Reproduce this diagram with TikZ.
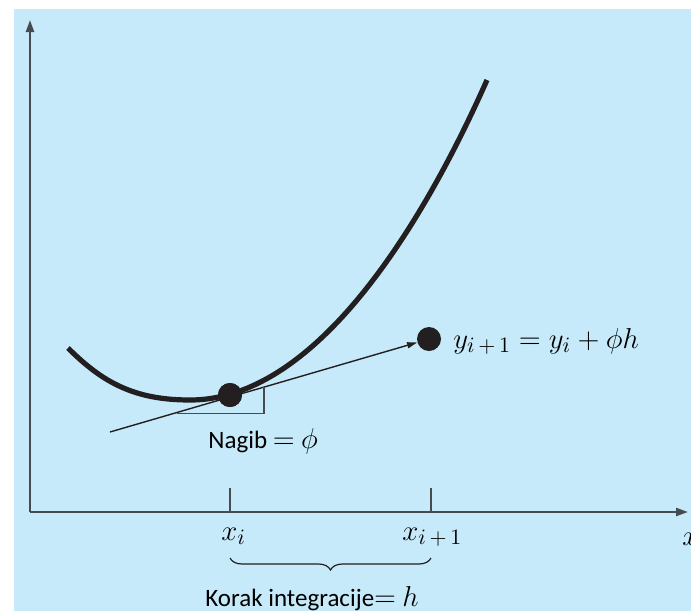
\documentclass[tikz,border=0pt]{standalone}
\usepackage{fontspec}
\setmainfont{Carlito}
\usetikzlibrary{arrows.meta,decorations.pathreplacing}
\definecolor{bgblue}{RGB}{198,234,249}
\definecolor{axisgrey}{RGB}{70,75,80}
\definecolor{ink}{RGB}{35,31,32}
\begin{document}
\begin{tikzpicture}[x=0.5pt,y=-0.5pt,
  axisline/.style={draw=axisgrey,line width=1.1pt},
  tickline/.style={draw=axisgrey,line width=0.7pt},
  dotnode/.style={circle,fill=ink,inner sep=0pt,minimum size=12pt},
  mathlbl/.style={inner sep=0pt,font=\fontsize{15}{17}\selectfont},
  sanslbl/.style={inner sep=0pt,font=\fontsize{12.5}{15}\selectfont}]
\useasboundingbox (0,0) rectangle (691,611);
\fill[bgblue] (14,9) rectangle (691,611);
% axes
\coordinate (O) at (30,512);
\coordinate (yT) at (30,20);
\coordinate (xT) at (688,512);
\draw[axisline,-{Triangle[width=4pt,length=6pt]}] (O) -- (yT);
\draw[axisline,-{Triangle[width=4pt,length=6pt]}] (O) -- (xT);
\node[mathlbl,anchor=base west] (xlab) at (682,545) {$x$};
% ticks
\coordinate (t1a) at (230,488); \coordinate (t1b) at (230,512);
\coordinate (t2a) at (431,488); \coordinate (t2b) at (431,512);
\draw[tickline] (t1a) -- (t1b);
\draw[tickline] (t2a) -- (t2b);
\node[mathlbl,anchor=base west] (xi) at (221,540) {$x_i$};
\node[mathlbl,anchor=base west] (xi1) at (402,540) {$x_{i\,+\,1}$};
% brace
\coordinate (b1) at (230,558); \coordinate (b2) at (431,558);
\draw[draw=ink,line width=0.6pt,decorate,decoration={brace,mirror,amplitude=6pt}] (b1) -- (b2);
\node[sanslbl,anchor=base west] (korak) at (205,606) {Korak integracije\fontsize{14}{15}\selectfont$=$ \fontsize{15}{17}\selectfont$h$};
% curve
\coordinate (c0) at (68,348);
\coordinate (c1) at (190,400);
\coordinate (c2) at (487,80);
\draw[ink,line width=2.6pt,line cap=butt] (c0) .. controls (103,383) and (135,400) .. (c1)
  .. controls (320,400) and (427.6,214.2) .. (c2);
% dots
\node[dotnode] (p1) at (230,395) {};
\node[dotnode] (p2) at (429,339) {};
% tangent
\coordinate (tS) at (110,432);
\draw[ink,line width=0.7pt,-{Triangle[width=3pt,length=5pt]}] (tS) -- (p2);
% slope triangle
\coordinate (r1) at (177,413.5);
\coordinate (r2) at (264,413.5);
\coordinate (r3) at (264,386.5);
\draw[draw=axisgrey,line width=0.8pt] (r1) -- (r2) -- (r3);
\node[dotnode] at (p1) {};
\node[sanslbl,anchor=base west] (nagib) at (208,448) {Nagib \fontsize{14}{15}\selectfont$=$ \fontsize{15}{17}\selectfont$\phi$};
\node[mathlbl,anchor=base west] (eq) at (453,348) {$y_{i\,+\,1} = y_i + \phi h$};
\end{tikzpicture}
\end{document}
